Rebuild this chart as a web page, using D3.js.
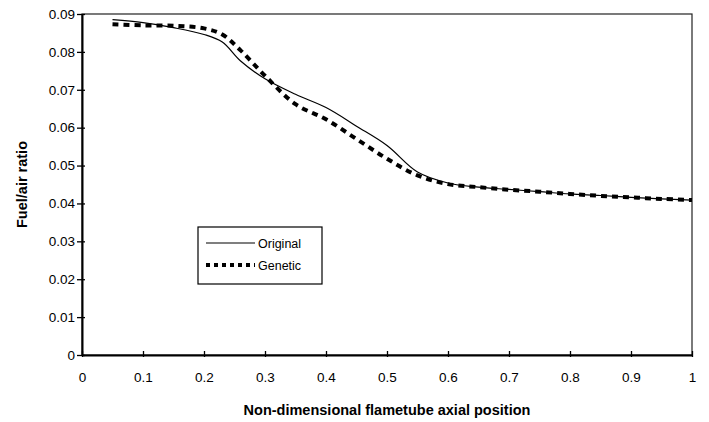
<!DOCTYPE html>
<html>
<head>
<meta charset="utf-8">
<script src="https://cdn.jsdelivr.net/npm/d3@7"></script>
<style>
  body { margin: 0; background: #fff; }
  text { font-family: "Liberation Sans", Arial, sans-serif; fill: #000; }
</style>
</head>
<body>
<div id="chart"></div>
<script>
// Data
const positions = [0.05, 0.1, 0.15, 0.2, 0.23, 0.26, 0.3, 0.35, 0.4, 0.45, 0.5, 0.55, 0.6, 0.65, 0.7, 0.75, 0.8, 0.85, 0.9, 0.95, 1.0];
const original = [0.0885, 0.0877, 0.0864, 0.0846, 0.0826, 0.0776, 0.0729, 0.0688, 0.0653, 0.0604, 0.0553, 0.0483, 0.0454, 0.0443, 0.0437, 0.0431, 0.0425, 0.0421, 0.0416, 0.0412, 0.0409];
const genetic = [0.0873, 0.0870, 0.0869, 0.0862, 0.0846, 0.0804, 0.0737, 0.0662, 0.0622, 0.0570, 0.0518, 0.0474, 0.0451, 0.0443, 0.0436, 0.0431, 0.0425, 0.0420, 0.0416, 0.0412, 0.0409];
const xTicks = [0, 0.1, 0.2, 0.3, 0.4, 0.5, 0.6, 0.7, 0.8, 0.9, 1];
const yTicks = [0, 0.01, 0.02, 0.03, 0.04, 0.05, 0.06, 0.07, 0.08, 0.09];
const seriesNames = ["Original", "Genetic"];

const width = 709, height = 422;
const margin = { top: 14, right: 17, bottom: 67, left: 82 };

const svg = d3.select("#chart").append("svg")
    .attr("width", width)
    .attr("height", height);

const x = d3.scaleLinear().domain([0, 1]).range([margin.left, width - margin.right]);
const y = d3.scaleLinear().domain([0, 0.09]).range([height - margin.bottom, margin.top]);

// frame (top / right)
svg.append("rect")
    .attr("x", x(0)).attr("y", y(0.09))
    .attr("width", x(1) - x(0)).attr("height", y(0) - y(0.09))
    .attr("fill", "none").attr("stroke", "#222").attr("stroke-width", 1.2);

// x axis
const xAxis = d3.axisBottom(x).tickValues(xTicks).tickFormat(d => d3.format("")(+d.toFixed(1)))
    .tickSizeInner(4).tickSizeOuter(0).tickPadding(13);
const gx = svg.append("g").attr("transform", `translate(0,${y(0)})`).call(xAxis);
gx.select(".domain").attr("stroke", "#000").attr("stroke-width", 2);
gx.selectAll(".tick line").attr("y1", -4).attr("y2", 2).attr("stroke-width", 1.3);
gx.selectAll(".tick text").attr("font-size", "13.5px").attr("font-family", "Liberation Sans, Arial, sans-serif");

// y axis
const yAxis = d3.axisLeft(y).tickValues(yTicks).tickFormat(d => d === 0 ? "0" : d3.format(".2f")(d))
    .tickSizeInner(4).tickSizeOuter(0).tickPadding(3);
const gy = svg.append("g").attr("transform", `translate(${x(0)},0)`).call(yAxis);
gy.select(".domain").attr("stroke", "#000").attr("stroke-width", 2);
gy.selectAll(".tick line").attr("x1", -5).attr("x2", 3).attr("stroke-width", 1.3);
gy.selectAll(".tick text").attr("font-size", "13.5px").attr("font-family", "Liberation Sans, Arial, sans-serif");

// axis titles
svg.append("text")
    .attr("x", (x(0) + x(1)) / 2)
    .attr("y", 415)
    .attr("text-anchor", "middle")
    .attr("font-size", "14.5px")
    .attr("font-weight", "bold")
    .text("Non-dimensional flametube axial position");

svg.append("text")
    .attr("transform", `translate(27,${(y(0) + y(0.09)) / 2}) rotate(-90)`)
    .attr("text-anchor", "middle")
    .attr("font-size", "14.5px")
    .attr("font-weight", "bold")
    .text("Fuel/air ratio");

// lines
const line = vals => d3.line()
    .x((d, i) => x(positions[i]))
    .y(d => y(d))
    .curve(d3.curveCatmullRom.alpha(0.5))(vals);

svg.append("path")
    .attr("d", line(original))
    .attr("fill", "none").attr("stroke", "#000").attr("stroke-width", 1.2);

svg.append("path")
    .attr("d", line(genetic))
    .attr("fill", "none").attr("stroke", "#000").attr("stroke-width", 4)
    .attr("stroke-dasharray", "6,5");

// legend
const legend = svg.append("g");
legend.append("rect")
    .attr("x", 198).attr("y", 227).attr("width", 124).attr("height", 57)
    .attr("fill", "#fff").attr("stroke", "#000").attr("stroke-width", 1.2);

const legendRows = [
    { name: seriesNames[0], width: 1.2, dash: null, y: 243 },
    { name: seriesNames[1], width: 4, dash: "4,4", y: 265 }
];
legendRows.forEach(r => {
    legend.append("line")
        .attr("x1", 206).attr("x2", 255).attr("y1", r.y).attr("y2", r.y)
        .attr("stroke", "#000").attr("stroke-width", r.width)
        .attr("stroke-dasharray", r.dash);
    legend.append("text")
        .attr("x", 258).attr("y", r.y + 4.5)
        .attr("font-size", "12.5px")
        .text(r.name);
});
</script>
</body>
</html>
